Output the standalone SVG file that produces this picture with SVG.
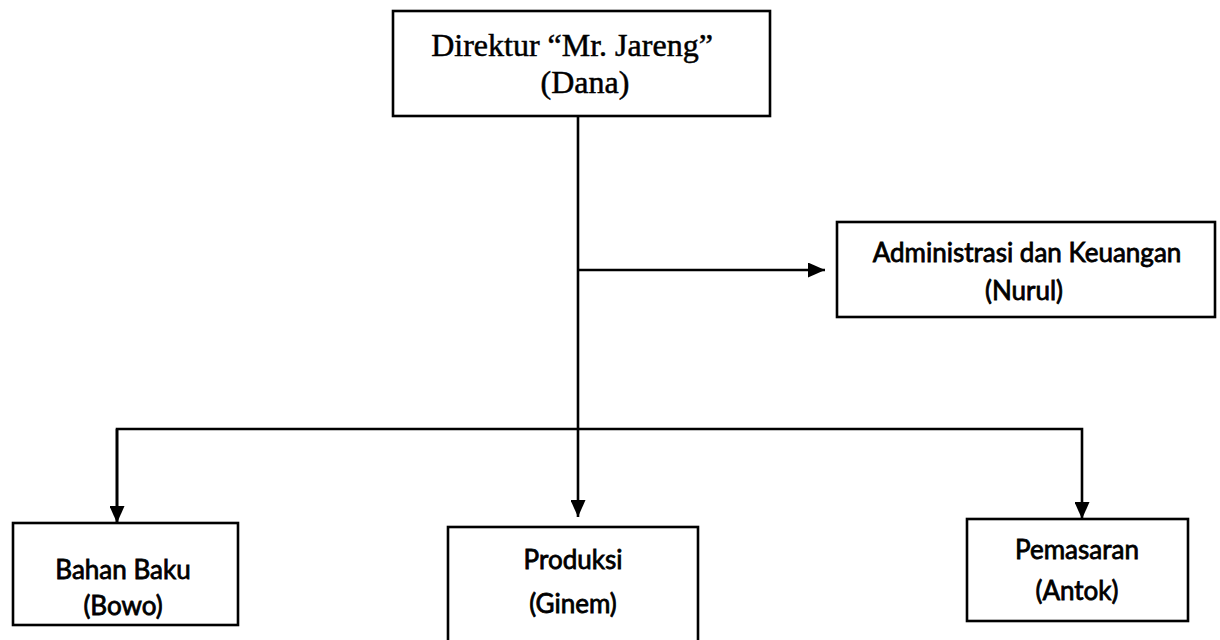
<svg xmlns="http://www.w3.org/2000/svg" width="1220" height="640" viewBox="0 0 1220 640">
<style>
.box{fill:#fff;stroke:#000;stroke-width:2.6}
.conn{fill:none;stroke:#000;stroke-width:2.6}
.serif{font-family:"Liberation Serif","Times New Roman",serif;font-size:32px;fill:#000;stroke:#000;stroke-width:0.5;text-anchor:middle}
.sans{font-family:Lato,"Open Sans",sans-serif;font-size:26px;fill:#000;stroke:#000;stroke-width:0.8;text-anchor:middle}
</style>
<defs>
<marker id="ah" markerWidth="17" markerHeight="15" refX="17" refY="7.5" orient="auto" markerUnits="userSpaceOnUse">
<path d="M0,0 L17,7.5 L0,15 Z" fill="#000"/>
</marker>
</defs>
<rect width="1220" height="640" fill="#fff"/>
<g id="connectors">
<line class="conn" x1="578" y1="116" x2="578" y2="517" marker-end="url(#ah)"/>
<line class="conn" x1="578" y1="270" x2="825" y2="270" marker-end="url(#ah)"/>
<polyline class="conn" points="117,523 117,429 1082,429 1082,519" marker-end="url(#ah)"/>
<line class="conn" x1="117" y1="429" x2="117" y2="523" marker-end="url(#ah)"/>
</g>
<g id="direktur">
<rect class="box" x="393" y="11" width="377" height="105"/>
<text class="serif" x="572" y="56">Direktur “Mr. Jareng”</text>
<text class="serif" x="585" y="93">(Dana)</text>
</g>
<g id="administrasi">
<rect class="box" x="837" y="222" width="378" height="95"/>
<text class="sans" x="1027" y="262">Administrasi dan Keuangan</text>
<text class="sans" x="1024" y="300">(Nurul)</text>
</g>
<g id="bahan-baku">
<rect class="box" x="13" y="523" width="225" height="102"/>
<text class="sans" x="123" y="579">Bahan Baku</text>
<text class="sans" x="123" y="615">(Bowo)</text>
</g>
<g id="produksi">
<rect class="box" x="448" y="527" width="250" height="125"/>
<text class="sans" x="573" y="569">Produksi</text>
<text class="sans" x="573" y="613">(Ginem)</text>
</g>
<g id="pemasaran">
<rect class="box" x="967" y="519" width="221" height="102"/>
<text class="sans" x="1077" y="559">Pemasaran</text>
<text class="sans" x="1077" y="600">(Antok)</text>
</g>
</svg>
